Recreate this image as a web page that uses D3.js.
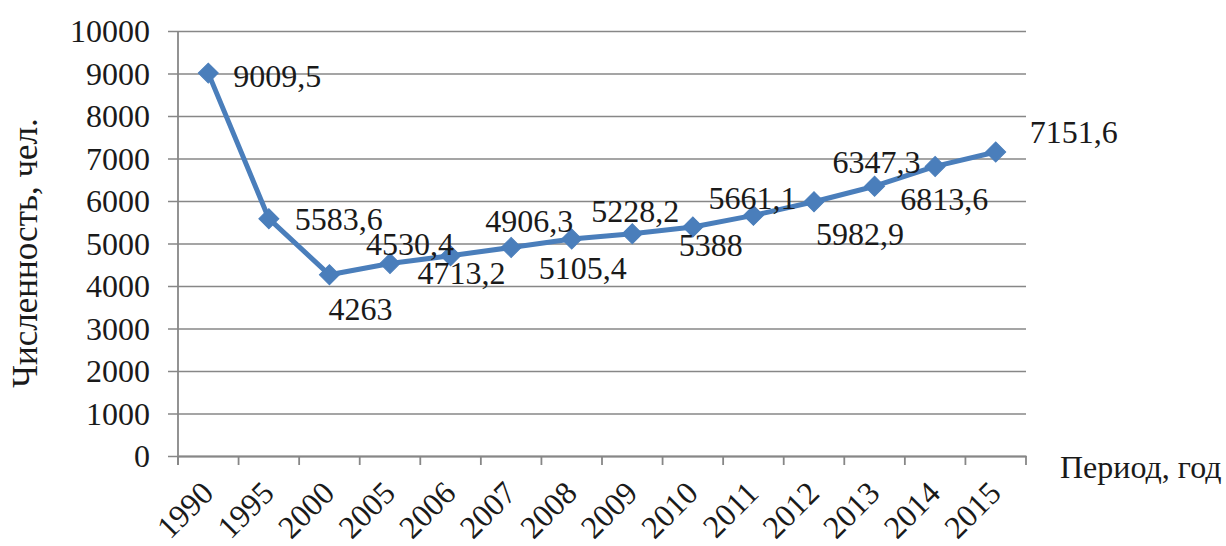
<!DOCTYPE html>
<html>
<head>
<meta charset="utf-8">
<script src="https://cdn.jsdelivr.net/npm/d3@7"></script>
<style>
  html, body { margin: 0; padding: 0; background: #fff; }
  svg text { font-family: "Liberation Serif", "Times New Roman", serif; fill: #1a1a1a; }
</style>
</head>
<body>
<svg id="chart" width="1226" height="546"></svg>
<script>
// Population by period
const years = ["1990","1995","2000","2005","2006","2007","2008","2009","2010","2011","2012","2013","2014","2015"];
const population = [9009.5, 5583.6, 4263, 4530.4, 4713.2, 4906.3, 5105.4, 5228.2, 5388, 5661.1, 5982.9, 6347.3, 6813.6, 7151.6];
const yTicks = [0,1000,2000,3000,4000,5000,6000,7000,8000,9000,10000];

// Label placement around each marker: [dx, dy] of the label centre
const labelOffsets = [
  [69, 3], [70, 0], [31, 34], [20, -20], [11, 17], [18, -27], [11, 29], [3, -23],
  [18, 18], [-1, -18], [46, 32], [2, -24], [9, 32], [78, -20]
];

const FONT = "Liberation Serif, Times New Roman, serif";
const svg = d3.select("#chart");
const plotL = 178, plotR = 1026, plotT = 31, plotB = 456;

const x = d3.scaleBand().domain(years).range([plotL, plotR]).padding(0);
const y = d3.scaleLinear().domain([0, 10000]).range([plotB, plotT]);

const fmt = v => String(v).replace(".", ",");

// horizontal gridlines with outward ticks
svg.append("g")
  .attr("transform", `translate(${plotL},0)`)
  .call(d3.axisLeft(y).tickValues(yTicks).tickSize(-(plotR - plotL)).tickSizeOuter(0).tickFormat(d => d))
  .attr("font-family", FONT)
  .call(g => g.select(".domain").remove())
  .call(g => g.selectAll(".tick line").attr("stroke", "#878787").attr("stroke-width", 1.6).attr("x1", -10))
  .call(g => g.selectAll(".tick text")
    .attr("x", -28).attr("dy", "0.34em")
    .attr("font-family", FONT).style("font-size", "32px").attr("fill", "#1a1a1a"));

// vertical axis line
svg.append("line")
  .attr("x1", plotL).attr("x2", plotL).attr("y1", plotT).attr("y2", plotB + 9)
  .attr("stroke", "#878787").attr("stroke-width", 1.8);

// category axis
const xAxis = svg.append("g")
  .attr("transform", `translate(0,${plotB})`)
  .call(d3.axisBottom(x).tickSize(0).tickSizeOuter(0))
  .attr("font-family", FONT);
xAxis.select(".domain").attr("stroke", "#878787").attr("stroke-width", 1.8);
xAxis.selectAll(".tick text")
  .attr("text-anchor", "end")
  .attr("y", 0).attr("dy", 0)
  .attr("transform", "translate(7,39) rotate(-45)")
  .attr("font-family", FONT).style("font-size", "32px").attr("fill", "#1a1a1a");

// boundary tick marks between categories
const bounds = years.map(d => x(d)).concat([plotR]);
svg.append("g").selectAll("line").data(bounds).join("line")
  .attr("x1", d => d).attr("x2", d => d)
  .attr("y1", plotB).attr("y2", plotB + 9)
  .attr("stroke", "#878787").attr("stroke-width", 1.8);

// series line
const cx = d => x(d) + x.bandwidth() / 2;
const line = d3.line().x((d, i) => cx(years[i])).y(d => y(d));
svg.append("path")
  .datum(population)
  .attr("d", line)
  .attr("fill", "none")
  .attr("stroke", "#4a7ebb")
  .attr("stroke-width", 5)
  .attr("stroke-linejoin", "round");

// diamond markers
svg.append("g").selectAll("path").data(population).join("path")
  .attr("d", d3.symbol().type(d3.symbolSquare).size(200))
  .attr("transform", (d, i) => `translate(${cx(years[i])},${y(d)}) rotate(45)`)
  .attr("fill", "#4a7ebb")
  .attr("stroke", "#4a7ebb")
  .attr("stroke-width", 1);

// data labels
svg.append("g").selectAll("text").data(population).join("text")
  .attr("x", (d, i) => cx(years[i]) + labelOffsets[i][0])
  .attr("y", (d, i) => y(d) + labelOffsets[i][1])
  .attr("text-anchor", "middle")
  .attr("dy", "0.35em")
  .attr("font-family", FONT)
  .style("font-size", "32px")
  .text(fmt);

// axis titles
svg.append("text")
  .attr("transform", "translate(37,253) rotate(-90)")
  .attr("text-anchor", "middle")
  .attr("font-family", FONT)
  .style("font-size", "35px")
  .text("Численность, чел.");

svg.append("text")
  .attr("x", 1060).attr("y", 478)
  .attr("font-family", FONT)
  .style("font-size", "32px")
  .text("Период, год");
</script>
</body>
</html>
